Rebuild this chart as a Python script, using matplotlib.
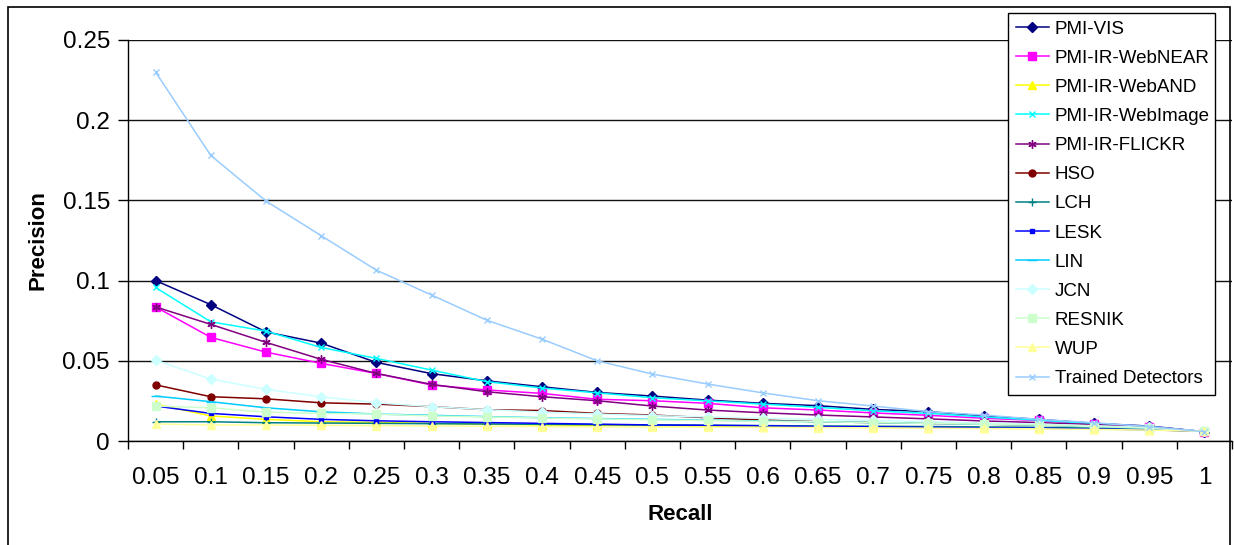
import numpy as np
import matplotlib
matplotlib.use('Agg')
import matplotlib.pyplot as plt
from matplotlib.patches import Rectangle

plt.rcParams['font.family'] = ['Liberation Sans', 'DejaVu Sans']

recall = ['0.05', '0.1', '0.15', '0.2', '0.25', '0.3', '0.35', '0.4', '0.45', '0.5',
          '0.55', '0.6', '0.65', '0.7', '0.75', '0.8', '0.85', '0.9', '0.95', '1']

pmi_vis = [0.100, 0.085, 0.068, 0.061, 0.049, 0.042, 0.0375, 0.0338, 0.0303, 0.028,
           0.0255, 0.0235, 0.022, 0.0197, 0.0183, 0.0156, 0.0135, 0.011, 0.0093, 0.0058]
pmi_webnear = [0.0836, 0.0646, 0.0554, 0.0484, 0.0421, 0.0349, 0.0318, 0.0297, 0.026, 0.0251,
               0.0235, 0.0207, 0.0193, 0.0175, 0.016, 0.0142, 0.0128, 0.0108, 0.009, 0.0058]
pmi_weband = [0.023, 0.0156, 0.0135, 0.012, 0.0116, 0.011, 0.0105, 0.010, 0.0098, 0.0095,
              0.0093, 0.009, 0.0088, 0.0085, 0.0083, 0.008, 0.0078, 0.0075, 0.007, 0.006]
pmi_webimage = [0.0957, 0.0743, 0.0685, 0.0583, 0.0515, 0.0442, 0.037, 0.033, 0.030, 0.027,
                0.025, 0.023, 0.021, 0.0188, 0.0172, 0.015, 0.013, 0.0108, 0.009, 0.0058]
pmi_flickr = [0.0836, 0.0727, 0.0615, 0.0509, 0.0421, 0.0353, 0.0307, 0.0276, 0.0251, 0.0218,
              0.0193, 0.0176, 0.0162, 0.015, 0.0138, 0.0125, 0.0115, 0.0102, 0.0088, 0.0058]
hso = [0.035, 0.0276, 0.0263, 0.0238, 0.023, 0.0214, 0.0195, 0.019, 0.0172, 0.0162,
       0.0145, 0.0131, 0.012, 0.0115, 0.011, 0.0105, 0.010, 0.009, 0.0075, 0.006]
lch = [0.012, 0.012, 0.0114, 0.0112, 0.011, 0.0108, 0.0106, 0.0104, 0.0102, 0.010,
       0.0098, 0.0096, 0.0094, 0.0092, 0.009, 0.0088, 0.0085, 0.008, 0.0072, 0.006]
lesk = [0.0218, 0.0172, 0.0151, 0.0135, 0.0126, 0.012, 0.0115, 0.011, 0.0105, 0.010,
        0.0098, 0.0095, 0.009, 0.0088, 0.0085, 0.0082, 0.008, 0.0075, 0.007, 0.006]
lin = [0.028, 0.0245, 0.0207, 0.0182, 0.0168, 0.016, 0.0152, 0.0145, 0.014, 0.0135,
       0.013, 0.0125, 0.012, 0.0115, 0.011, 0.0105, 0.010, 0.009, 0.008, 0.006]
jcn = [0.0504, 0.0386, 0.0322, 0.0276, 0.0238, 0.0214, 0.0195, 0.018, 0.0168, 0.0158,
       0.015, 0.0142, 0.0135, 0.0128, 0.012, 0.0112, 0.0105, 0.0095, 0.0085, 0.006]
resnik = [0.0218, 0.0207, 0.018, 0.0172, 0.0168, 0.0156, 0.015, 0.0143, 0.0138, 0.0132,
          0.0128, 0.0123, 0.012, 0.0115, 0.011, 0.0105, 0.010, 0.009, 0.008, 0.006]
wup = [0.0106, 0.010, 0.010, 0.0098, 0.0096, 0.0094, 0.0092, 0.009, 0.0088, 0.0087,
       0.0086, 0.0085, 0.0084, 0.0082, 0.008, 0.0078, 0.0076, 0.0072, 0.0068, 0.006]
trained = [0.230, 0.178, 0.1496, 0.128, 0.1065, 0.091, 0.0753, 0.0635, 0.050, 0.0417,
           0.0355, 0.030, 0.0251, 0.0218, 0.0183, 0.0162, 0.0135, 0.0114, 0.0089, 0.0058]

series = [
    ('PMI-VIS', pmi_vis, '#000080', 'D', 5),
    ('PMI-IR-WebNEAR', pmi_webnear, '#FF00FF', 's', 6),
    ('PMI-IR-WebAND', pmi_weband, '#FFFF00', '^', 6),
    ('PMI-IR-WebImage', pmi_webimage, '#00FFFF', 'x', 5),
    ('PMI-IR-FLICKR', pmi_flickr, '#800080', (6, 2, 0), 6),
    ('HSO', hso, '#800000', 'o', 5),
    ('LCH', lch, '#008080', '+', 6),
    ('LESK', lesk, '#0000FF', 's', 3.5),
    ('LIN', lin, '#00CCFF', '_', 7),
    ('JCN', jcn, '#CCFFFF', 'D', 5),
    ('RESNIK', resnik, '#CCFFCC', 's', 6),
    ('WUP', wup, '#FFFF99', '^', 6),
    ('Trained Detectors', trained, '#99CCFF', 'x', 5),
]

fig = plt.figure(figsize=(12.34, 5.45), dpi=100)
ax = fig.add_axes([128 / 1234, 1 - 441 / 545, (1232 - 128) / 1234, (441 - 40) / 545])

x = np.arange(len(recall))
for name, vals, color, marker, ms in series:
    ax.plot(x, vals, color=color, lw=1.1, marker=marker, ms=ms,
            mfc=color, mec=color, mew=1.0, label=name)

ax.set_xlim(-0.5, len(recall) - 0.5)
ax.set_ylim(0, 0.25)
ax.set_yticks([0, 0.05, 0.1, 0.15, 0.2, 0.25])
ax.set_yticklabels(['0', '0.05', '0.1', '0.15', '0.2', '0.25'])
ax.set_xticks(x)
ax.set_xticklabels(recall)
ax.set_xticks(np.arange(len(recall) + 1) - 0.5, minor=True)
ax.tick_params(axis='x', which='major', length=0, pad=19, labelsize=17.5)
ax.tick_params(axis='x', which='minor', length=6, width=1, direction='out')
ax.tick_params(axis='y', length=7, width=1, pad=6, labelsize=17.5)

ax.yaxis.grid(True, color='#111111', lw=1.0)
ax.set_axisbelow(True)
for s in ['top', 'right']:
    ax.spines[s].set_visible(False)
for s in ['left', 'bottom']:
    ax.spines[s].set_color('black')
    ax.spines[s].set_linewidth(1.0)

fig.text(38 / 1234, 1 - 240 / 545, 'Precision', rotation=90, fontsize=16,
         fontweight='bold', ha='center', va='center')
fig.text(680 / 1234, 1 - 515 / 545, 'Recall', fontsize=16,
         fontweight='bold', ha='center', va='center')

# legend box sits over the top right corner of the plot
leg = ax.legend(loc='upper left',
                bbox_to_anchor=(1008 / 1234, 1 - 392 / 545, 207 / 1234, 379 / 545),
                bbox_transform=fig.transFigure, mode='expand', fontsize=13.5,
                frameon=True, fancybox=False, borderaxespad=0, handlelength=1.8,
                handletextpad=0.3, labelspacing=0.64, borderpad=0.4, framealpha=1)
leg.get_frame().set_edgecolor('black')
leg.get_frame().set_linewidth(1.0)

# outer chart border
fig.patches.append(Rectangle((8 / 1234, -0.05), (1230 - 8) / 1234, 1.05 - 7 / 545,
                             transform=fig.transFigure, fill=False, ec='black', lw=1.2))

fig.savefig('out.png', dpi=100)
